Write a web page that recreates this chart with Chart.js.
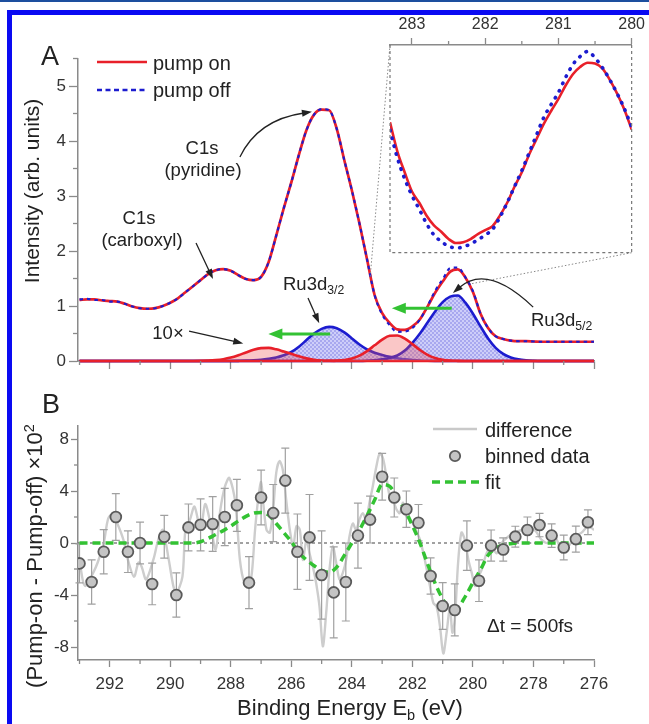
<!DOCTYPE html>
<html>
<head>
<meta charset="utf-8">
<script src="https://cdn.jsdelivr.net/npm/chart.js@4.4.1/dist/chart.umd.min.js"></script>
<style>
body{margin:0;background:#fff;}
#page{position:relative;width:649px;height:724px;overflow:hidden;font-family:"Liberation Sans",Arial,sans-serif;color:#222;background:#fff;}
#page canvas{position:absolute;}
.t{position:absolute;white-space:nowrap;line-height:1;}
.c{transform:translate(-50%,-50%);}
.l{transform:translateY(-50%);}
.r{transform:translate(-50%,-50%) rotate(-90deg);}
.sb{font-size:0.66em;position:relative;top:0.35em;}
.sp{font-size:0.66em;position:relative;top:-0.55em;}
#topline{position:absolute;left:0;top:0;width:649px;height:2px;background:#1d4f9e;}
#frame{position:absolute;left:7px;top:10px;width:650px;height:720px;border-left:5px solid #0a0af2;border-top:5px solid #0a0af2;}
</style>
</head>
<body>
<div id="page">
  <div id="topline"></div>
  <div id="frame"></div>
  <canvas id="chartA" width="649" height="400" style="left:0;top:0"></canvas>
  <canvas id="inset" width="309" height="300" style="left:340px;top:0"></canvas>
  <canvas id="chartB" width="649" height="324" style="left:0;top:400px"></canvas>

  <div class="t c" style="left:50px;top:56px;font-size:27px">A</div>
  <div class="t c" style="left:51px;top:404px;font-size:27px">B</div>

  <div class="t r" style="left:31px;top:191px;font-size:21px">Intensity (arb. units)</div>
  <div class="t r" style="left:35px;top:556px;font-size:22px">(Pump-on - Pump-off) ×10<span class="sp">2</span></div>
  <div class="t c" style="left:350px;top:708px;font-size:22px">Binding Energy E<span class="sb">b</span> (eV)</div>

  <div class="t l" style="left:153px;top:63px;font-size:20px">pump on</div>
  <div class="t l" style="left:153px;top:90px;font-size:20px">pump off</div>

  <div class="t c" style="left:202px;top:148px;font-size:18.5px">C1s</div>
  <div class="t c" style="left:203px;top:170px;font-size:18.5px">(pyridine)</div>
  <div class="t c" style="left:139px;top:218px;font-size:18.5px">C1s</div>
  <div class="t c" style="left:142px;top:240px;font-size:18.5px">(carboxyl)</div>
  <div class="t c" style="left:168px;top:333px;font-size:18.5px">10×</div>
  <div class="t l" style="left:283px;top:284px;font-size:18.5px">Ru3d<span class="sb">3/2</span></div>
  <div class="t l" style="left:531px;top:320px;font-size:18.5px">Ru3d<span class="sb">5/2</span></div>

  <div class="t l" style="left:485px;top:430px;font-size:20px">difference</div>
  <div class="t l" style="left:485px;top:456px;font-size:20px">binned data</div>
  <div class="t l" style="left:485px;top:482px;font-size:20px">fit</div>
  <div class="t l" style="left:487px;top:625px;font-size:19px">Δt = 500fs</div>
</div>

<script>
// ================= DATA =================

// panel A, 0.25 eV grid
const energies = [293, 292.75, 292.5, 292.25, 292, 291.75, 291.5, 291.25, 291, 290.75, 290.5, 290.25, 290,
  289.75, 289.5, 289.25, 289, 288.75, 288.5, 288.25, 288, 287.75, 287.5, 287.25, 287, 286.75, 286.5, 286.25, 286,
  285.75, 285.5, 285.25, 285, 284.75, 284.5, 284.25, 284, 283.75, 283.5, 283.25, 283, 282.75, 282.5, 282.25, 282,
  281.75, 281.5, 281.25, 281, 280.75, 280.5, 280.25, 280, 279.75, 279.5, 279.25, 279, 278.75, 278.5, 278.25, 278,
  277.75, 277.5, 277.25, 277, 276.75, 276.5, 276.25, 276];

const pumpOn = [1.11, 1.12, 1.12, 1.10, 1.09, 1.08, 1.04, 0.99, 0.96, 0.95, 0.96, 1.00, 1.06,
  1.14, 1.25, 1.36, 1.47, 1.58, 1.65, 1.67, 1.64, 1.56, 1.49, 1.47, 1.53, 1.80, 2.28, 2.78, 3.25,
  3.75, 4.20, 4.48, 4.57, 4.56, 4.22, 3.65, 3.10, 2.50, 1.85, 1.20, 0.87, 0.69, 0.575, 0.565, 0.63,
  0.76, 0.99, 1.24, 1.445, 1.625, 1.665, 1.52, 1.255, 0.86, 0.60, 0.45, 0.40, 0.37, 0.36, 0.36, 0.355,
  0.35, 0.35, 0.35, 0.35, 0.35, 0.35, 0.35, 0.35];

const pumpOff = [1.12, 1.13, 1.11, 1.11, 1.08, 1.08, 1.04, 0.99, 0.96, 0.95, 0.96, 1.00, 1.06,
  1.14, 1.25, 1.36, 1.47, 1.58, 1.65, 1.67, 1.64, 1.56, 1.49, 1.47, 1.53, 1.80, 2.28, 2.78, 3.25,
  3.75, 4.20, 4.48, 4.58, 4.56, 4.22, 3.65, 3.10, 2.50, 1.85, 1.20, 0.845, 0.65, 0.53, 0.535, 0.60,
  0.755, 1.00, 1.275, 1.485, 1.69, 1.70, 1.52, 1.27, 0.86, 0.60, 0.45, 0.40, 0.37, 0.36, 0.36, 0.355,
  0.35, 0.35, 0.35, 0.35, 0.35, 0.35, 0.35, 0.35];

// fitted components
const ru32 = [0, 0, 0, 0, 0, 0, 0, 0, 0, 0, 0, 0, 0,
  0, 0, 0, 0, 0, 0, 0, 0.001, 0.003, 0.006, 0.012, 0.022, 0.04, 0.065, 0.105, 0.165,
  0.26, 0.38, 0.50, 0.585, 0.62, 0.595, 0.52, 0.41, 0.30, 0.21, 0.15, 0.11, 0.075, 0.05, 0.03, 0.018,
  0.01, 0.005, 0.002, 0, 0, 0, 0, 0, 0, 0, 0, 0, 0, 0, 0, 0,
  0, 0, 0, 0, 0, 0, 0, 0];

const ru52 = [0, 0, 0, 0, 0, 0, 0, 0, 0, 0, 0, 0, 0,
  0, 0, 0, 0, 0, 0, 0, 0, 0, 0, 0, 0, 0, 0, 0, 0,
  0, 0, 0, 0, 0, 0, 0, 0, 0, 0.005, 0.015, 0.03, 0.055, 0.10, 0.19, 0.33,
  0.50, 0.70, 0.90, 1.07, 1.17, 1.19, 1.06, 0.86, 0.63, 0.41, 0.24, 0.13, 0.065, 0.03, 0.012, 0.004,
  0, 0, 0, 0, 0, 0, 0, 0];

const red10a = [0, 0, 0, 0, 0, 0, 0, 0, 0, 0, 0, 0, 0,
  0, 0, 0.001, 0.003, 0.007, 0.016, 0.033, 0.062, 0.105, 0.156, 0.204, 0.234, 0.238, 0.212, 0.172, 0.13,
  0.085, 0.048, 0.024, 0.01, 0.004, 0.001, 0, 0, 0, 0, 0, 0, 0, 0, 0, 0,
  0, 0, 0, 0, 0, 0, 0, 0, 0, 0, 0, 0, 0, 0, 0, 0,
  0, 0, 0, 0, 0, 0, 0, 0];

const red10b = [0, 0, 0, 0, 0, 0, 0, 0, 0, 0, 0, 0, 0,
  0, 0, 0, 0, 0, 0, 0, 0, 0, 0, 0, 0, 0, 0, 0, 0,
  0, 0, 0, 0, 0.002, 0.007, 0.019, 0.046, 0.098, 0.18, 0.285, 0.389, 0.458, 0.464, 0.407, 0.307,
  0.20, 0.112, 0.055, 0.023, 0.008, 0.003, 0.001, 0, 0, 0, 0, 0, 0, 0, 0, 0,
  0, 0, 0, 0, 0, 0, 0, 0];

// inset, 0.1 eV grid
const insetE = [283.3, 283.2, 283.1, 283.0, 282.9, 282.8, 282.7, 282.6, 282.5, 282.4, 282.3, 282.2, 282.1, 282.0,
  281.9, 281.8, 281.7, 281.6, 281.5, 281.4, 281.3, 281.2, 281.1, 281.0, 280.9, 280.8, 280.7, 280.6, 280.5,
  280.4, 280.3, 280.2, 280.1, 280.0];
const insetOn = [1.30, 1.12, 0.99, 0.87, 0.80, 0.72, 0.66, 0.62, 0.575, 0.55, 0.555, 0.575, 0.605, 0.63,
  0.655, 0.72, 0.80, 0.90, 0.99, 1.10, 1.195, 1.29, 1.37, 1.445, 1.53, 1.60, 1.645, 1.67, 1.665,
  1.635, 1.565, 1.48, 1.38, 1.255];
const insetOff = [1.25, 1.08, 0.95, 0.845, 0.76, 0.67, 0.60, 0.56, 0.53, 0.52, 0.525, 0.545, 0.57, 0.60,
  0.635, 0.71, 0.80, 0.90, 1.00, 1.11, 1.22, 1.33, 1.41, 1.485, 1.58, 1.66, 1.71, 1.74, 1.70,
  1.64, 1.565, 1.48, 1.385, 1.27];

// panel B
const fitB = [0, 0, 0, 0, 0, 0, 0, 0, 0, 0, 0, 0, 0,
  0, 0, 0, 0.1, 0.35, 0.65, 0.95, 1.3, 1.7, 2.05, 2.3, 2.35, 2.15, 1.5, 0.8, 0.1,
  -0.75, -1.3, -1.75, -2.1, -2.25, -1.85, -0.95, 0.0, 1.0, 2.1, 3.3, 4.5, 4.35, 3.5, 2.55, 1.35,
  0.0, -1.6, -3.1, -4.3, -5.05, -4.95, -4.1, -3.05, -2.05, -0.95, -0.4, -0.15, -0.05, 0, 0, 0,
  0, 0, 0, 0, 0, 0, 0, 0];

const binE = [293.0, 292.6, 292.2, 291.8, 291.4, 291.0, 290.6, 290.2, 289.8, 289.4, 289.0, 288.6, 288.2,
  287.8, 287.4, 287.0, 286.6, 286.2, 285.8, 285.4, 285.0, 284.6, 284.2, 283.8, 283.4, 283.0, 282.6,
  282.2, 281.8, 281.4, 281.0, 280.6, 280.2, 279.8, 279.4, 279.0, 278.6, 278.2, 277.8, 277.4, 277.0,
  276.6, 276.2];
const binV = [-1.57, -3.0, -0.67, 2.0, -0.67, 0.0, -3.15, 0.48, -4.0, 1.2, 1.4, 1.46, 2.0,
  2.9, -3.05, 3.5, 2.3, 4.8, -0.67, 0.43, -2.46, -3.8, -3.0, 0.57, 1.8, 5.1, 3.5,
  2.6, 1.56, -2.54, -4.85, -5.15, -0.2, -2.9, -0.2, -0.5, 0.49, 1.0, 1.38, 0.57, -0.35,
  0.3, 1.6];
const binErr = [1.5, 1.7, 1.7, 1.8, 1.6, 1.6, 1.6, 1.65, 1.7, 1.8, 2.0, 2.1, 2.2,
  2.0, 2.0, 2.1, 2.2, 2.5, 2.9, 3.3, 3.4, 3.5, 3.0, 2.5, 1.8, 1.8, 1.5,
  1.4, 1.4, 1.4, 1.8, 2.0, 1.9, 1.6, 1.2, 0.9, 0.8, 1.0, 0.9, 0.9, 0.95,
  1.0, 0.95];

const diffE = [293.0, 292.88, 292.8, 292.55, 292.4, 292.2, 292.05, 291.9, 291.75, 291.55, 291.4, 291.2, 291.05,
  290.95, 290.8, 290.55, 290.4, 290.25, 290.05, 289.9, 289.8, 289.6, 289.5, 289.35, 289.2, 289.0, 288.85,
  288.7, 288.5, 288.35, 288.2, 288.05, 287.85, 287.7, 287.55, 287.4, 287.3, 287.2, 287.1, 287.0, 286.93,
  286.82, 286.71, 286.6, 286.5, 286.39, 286.28, 286.17, 286.05, 285.94, 285.83, 285.72, 285.62, 285.5,
  285.4, 285.29, 285.18, 285.07, 284.96, 284.85, 284.74, 284.63, 284.52, 284.41, 284.3, 284.19, 284.08,
  283.97, 283.86, 283.75, 283.64, 283.53, 283.42, 283.31, 283.19, 283.08, 282.97, 282.86, 282.75, 282.64,
  282.53, 282.42, 282.31, 282.2, 282.09, 281.98, 281.85, 281.75, 281.59, 281.42, 281.31, 281.2, 281.09,
  280.98, 280.87, 280.76, 280.68, 280.6, 280.49, 280.38, 280.27, 280.15, 280.04, 279.93, 279.82, 279.71,
  279.55, 279.38, 279.22, 279.05, 278.83, 278.61, 278.39, 278.17, 277.96, 277.74, 277.52, 277.3, 277.07,
  276.85, 276.63, 276.41, 276.19, 276.0];
const diffV = [-1.3, -3.0, -3.3, -2.3, -1.5, 0.0, 1.9, 2.2, 1.5, 0.25, -1.3, -2.6, -1.5,
  -1.8, -2.8, -1.2, 0.25, 1.0, -1.3, -3.3, -3.85, -2.6, 1.0, 1.8, 2.8, 1.0, 3.0,
  1.8, -0.5, 2.5, 4.3, 5.0, 3.1, -1.3, -3.1, -3.3, -2.2, 1.0, 3.3, 4.7, 3.1,
  1.0, 0.8, 2.6, 5.4, 6.3, 5.6, 3.3, 1.0, -0.26, 1.3, 1.0, -1.3, 0.26,
  -0.8, -1.8, -3.1, -4.9, -7.95, -5.4, -2.05, -0.26, -1.5, -2.8, -2.3, -1.3, 0.5,
  1.5, 1.0, 1.8, 2.3, 1.8, 3.1, 4.35, 5.9, 6.9, 6.5, 5.1, 3.6, 3.3,
  2.6, 2.3, 3.1, 2.05, 1.8, 1.5, 0.8, 0.26, -1.3, -3.3, -4.6, -4.9, -6.4,
  -8.5, -6.9, -4.9, -6.9, -5.9, -1.5, 0.8, 0.26, -1.3, -2.3, -3.3, -2.6, -2.05,
  -0.8, -0.26, -0.8, 0.0, 0.5, 0.8, 1.0, 1.0, 1.0, 0.26, 0.0, 0.5, -0.5,
  -0.26, 0.5, 0.8, 1.3, 1.0];

// tick values
const xTicks = [292, 290, 288, 286, 284, 282, 280, 278, 276];
const xMinor = [293, 291, 289, 287, 285, 283, 281, 279, 277];
const yTicksA = [0, 1, 2, 3, 4, 5];
const yMinorA = [0.5, 1.5, 2.5, 3.5, 4.5, 5.5];
const yTicksB = [-8, -4, 0, 4, 8];
const yMinorB = [-6, -2, 2, 6];
const insetTicks = [283, 282, 281, 280];
const insetMinor = [282.5, 281.5, 280.5];

// ================= STYLE / HELPERS =================

const FONT = '"Liberation Sans", Arial, sans-serif';
const axisGray = '#8a8a8a';
const RED = '#e8202a', BLUE = '#1c1ccf', GREEN = '#33c233';

const xy = (xs, ys) => xs.map((x, i) => ({x: x, y: ys[i]}));

function axis(min, max, ticks, size, tickLen, pad, fit, reverse, position){
    return {
        type: 'linear', min: min, max: max, reverse: !!reverse, position: position,
        afterBuildTicks: s => { s.ticks = ticks.map(v => ({value: v})); },
        afterFit: fit,
        grid: {drawOnChartArea: false, tickLength: tickLen, tickColor: axisGray, tickWidth: 1.3},
        border: {color: axisGray, width: 1.5},
        ticks: {color: '#333', font: {family: FONT, size: size}, padding: pad, autoSkip: false, maxRotation: 0}
    };
}

function minorPlugin(list){
    return {id: 'minor', afterDraw(chart){
        const ctx = chart.ctx;
        ctx.save();
        ctx.strokeStyle = axisGray; ctx.lineWidth = 1.3;
        list.forEach(m => {
            const s = chart.scales[m.id];
            m.values.forEach(v => {
                const p = s.getPixelForValue(v);
                ctx.beginPath();
                if (s.isHorizontal()){
                    const top = s.position === 'top';
                    const y0 = top ? s.bottom : s.top;
                    ctx.moveTo(p, y0); ctx.lineTo(p, y0 + (top ? -m.len : m.len));
                } else {
                    ctx.moveTo(s.right, p); ctx.lineTo(s.right - m.len, p);
                }
                ctx.stroke();
            });
        });
        ctx.restore();
    }};
}

function arrow(ctx, pts, color, w, head, hw){
    const end = pts[pts.length - 1], prev = pts[pts.length - 2];
    const ang = Math.atan2(end[1] - prev[1], end[0] - prev[0]);
    const bx = end[0] - Math.cos(ang) * head * 0.8, by = end[1] - Math.sin(ang) * head * 0.8;
    ctx.save();
    ctx.strokeStyle = color; ctx.fillStyle = color; ctx.lineWidth = w;
    ctx.beginPath();
    ctx.moveTo(pts[0][0], pts[0][1]);
    if (pts.length === 3) ctx.quadraticCurveTo(pts[1][0], pts[1][1], bx, by);
    else ctx.lineTo(bx, by);
    ctx.stroke();
    ctx.translate(end[0], end[1]); ctx.rotate(ang);
    ctx.beginPath(); ctx.moveTo(0, 0); ctx.lineTo(-head, hw / 2); ctx.lineTo(-head, -hw / 2); ctx.closePath();
    ctx.fill();
    ctx.restore();
}

function hatch(){
    const c = document.createElement('canvas');
    c.width = c.height = 4;
    const g = c.getContext('2d');
    g.fillStyle = 'rgba(120,120,238,0.36)'; g.fillRect(0, 0, 4, 4);
    g.fillStyle = 'rgba(80,80,215,0.30)'; g.fillRect(0, 0, 2, 2); g.fillRect(2, 2, 2, 2);
    return g.createPattern(c, 'repeat');
}

// annotation anchors, in data units of panel A
const notes = {
    pyridine: [[287.70, 3.71], [287.10, 4.39], [285.32, 4.53]],
    carboxyl: [[289.15, 2.145], [288.59, 1.49]],
    ru32: [[285.45, 1.145], [285.08, 0.685]],
    tenx: [[289.38, 0.545], [287.59, 0.32]],
    ru52: [[278.01, 0.98], [279.53, 1.78], [280.66, 1.236]],
    shiftA: [[284.72, 0.49], [286.76, 0.49]],
    shiftB: [[280.70, 0.958], [282.68, 0.958]],
    zoomFrom: [[283.4, 1.5], [280.1, 1.4]]
};

// ================= INSET =================

const insetChart = new Chart(document.getElementById('inset'), {
    type: 'line',
    data: {datasets: [
        {data: xy(insetE, insetOff), borderColor: BLUE, borderWidth: 3.6, borderDash: [0.5, 7.5],
         borderCapStyle: 'round', pointRadius: 0, cubicInterpolationMode: 'monotone', order: 0},
        {data: xy(insetE, insetOn), borderColor: RED, borderWidth: 2.6, pointRadius: 0,
         cubicInterpolationMode: 'monotone', order: 1}
    ]},
    options: {
        responsive: false, animation: false, devicePixelRatio: 1,
        layout: {padding: {left: 50, right: 16.7, top: 0, bottom: 47.3}},
        plugins: {legend: {display: false}, tooltip: {enabled: false}},
        scales: {
            x: axis(280, 283.3, insetTicks, 16, 7, 4, s => { s.height = 45; }, true, 'top'),
            y: {type: 'linear', min: 0.49, max: 1.78, display: false}
        }
    },
    plugins: [minorPlugin([{id: 'x', values: insetMinor, len: 4}]), {id: 'box', afterDraw(chart){
        const {ctx, chartArea: a} = chart;
        ctx.save();
        ctx.strokeStyle = '#777'; ctx.lineWidth = 1.2; ctx.setLineDash([3, 3]);
        ctx.beginPath();
        ctx.moveTo(a.left, a.top); ctx.lineTo(a.left, a.bottom); ctx.lineTo(a.right, a.bottom); ctx.lineTo(a.right, a.top);
        ctx.stroke();
        ctx.restore();
    }}]
});

// ================= PANEL A =================

const annotA = {id: 'annotA', afterDraw(chart){
    const {ctx, scales: {x, y}} = chart;
    const P = p => [x.getPixelForValue(p[0]), y.getPixelForValue(p[1])];

    // black pointers
    ['pyridine', 'carboxyl', 'ru32', 'tenx', 'ru52'].forEach(k => {
        arrow(ctx, notes[k].map(P), '#222', 1.3, 10, 7);
    });
    // green shift arrows
    arrow(ctx, notes.shiftA.map(P), GREEN, 3, 14, 11);
    arrow(ctx, notes.shiftB.map(P), GREEN, 3, 14, 11);

    // dotted connectors to the inset
    const ia = insetChart.chartArea, ox = 340, oy = 0;
    const c1 = P(notes.zoomFrom[0]), c2 = P(notes.zoomFrom[1]);
    ctx.save();
    ctx.strokeStyle = '#888'; ctx.lineWidth = 1; ctx.setLineDash([1.5, 2]);
    ctx.beginPath();
    ctx.moveTo(ia.left + ox, ia.top + oy); ctx.lineTo(c1[0], c1[1]);
    ctx.moveTo(ia.right + ox, ia.bottom + oy); ctx.lineTo(c2[0], c2[1]);
    ctx.stroke();
    ctx.restore();

    // legend samples
    ctx.save();
    ctx.lineWidth = 2.6; ctx.strokeStyle = RED;
    ctx.beginPath(); ctx.moveTo(97, 62); ctx.lineTo(147, 62); ctx.stroke();
    ctx.strokeStyle = BLUE; ctx.lineWidth = 2.6; ctx.setLineDash([5, 3.5]);
    ctx.beginPath(); ctx.moveTo(97, 90); ctx.lineTo(147, 90); ctx.stroke();
    ctx.restore();
}};

const blueFill = hatch();
const redFill = 'rgba(240,80,80,0.32)';
const comp = (vals, color, fill, order) => ({
    data: xy(energies, vals), borderColor: color, borderWidth: 2.6, backgroundColor: fill,
    fill: 'origin', pointRadius: 0, cubicInterpolationMode: 'monotone', clip: 6, order: order
});

new Chart(document.getElementById('chartA'), {
    type: 'line',
    data: {datasets: [
        {data: xy(energies, pumpOff), borderColor: BLUE, borderWidth: 2.1, borderDash: [3.5, 4],
         pointRadius: 0, cubicInterpolationMode: 'monotone', order: 0},
        {data: xy(energies, pumpOn), borderColor: RED, borderWidth: 2.7,
         pointRadius: 0, cubicInterpolationMode: 'monotone', order: 1},
        comp(red10b, RED, redFill, 2),
        comp(red10a, RED, redFill, 3),
        comp(ru52, BLUE, blueFill, 4),
        comp(ru32, BLUE, blueFill, 5)
    ]},
    options: {
        responsive: false, animation: false, devicePixelRatio: 1,
        layout: {padding: {left: 0, right: 55, top: 58.5, bottom: 20}},
        plugins: {legend: {display: false}, tooltip: {enabled: false}},
        scales: {
            x: axis(276, 293.05, xTicks, 17, 8, 10, s => { s.height = 19; }, true, 'bottom'),
            y: axis(0, 5.5, yTicksA, 17, 9, 3, s => { s.width = 78; }, false, 'left')
        }
    },
    plugins: [minorPlugin([{id: 'x', values: xMinor, len: 4}, {id: 'y', values: yMinorA, len: 5}]), annotA]
});

// ================= PANEL B =================

const annotB = {
    id: 'annotB',
    beforeDatasetsDraw(chart){
        const {ctx, chartArea: a, scales: {y}} = chart;
        const y0 = y.getPixelForValue(0);
        ctx.save();
        ctx.strokeStyle = '#444'; ctx.lineWidth = 1; ctx.setLineDash([3, 3]);
        ctx.beginPath(); ctx.moveTo(a.left, y0); ctx.lineTo(a.right, y0); ctx.stroke();
        ctx.restore();
    },
    afterDatasetDraw(chart, args){
        if (args.index !== 2) return;
        const {ctx, scales: {x, y}} = chart;
        ctx.save();
        ctx.strokeStyle = '#a0a0a0'; ctx.lineWidth = 1.2;
        binE.forEach((e, i) => {
            const px = x.getPixelForValue(e);
            const hi = y.getPixelForValue(binV[i] + binErr[i]);
            const lo = y.getPixelForValue(binV[i] - binErr[i]);
            ctx.beginPath();
            ctx.moveTo(px, hi); ctx.lineTo(px, lo);
            ctx.moveTo(px - 4, hi); ctx.lineTo(px + 4, hi);
            ctx.moveTo(px - 4, lo); ctx.lineTo(px + 4, lo);
            ctx.stroke();
        });
        ctx.restore();
    },
    afterDraw(chart){
        const ctx = chart.ctx;
        ctx.save();
        ctx.strokeStyle = '#c9c9c9'; ctx.lineWidth = 2.4;
        ctx.beginPath(); ctx.moveTo(433, 29); ctx.lineTo(477, 29); ctx.stroke();
        ctx.beginPath(); ctx.arc(455, 56, 5.2, 0, Math.PI * 2);
        ctx.fillStyle = '#c4c4c4'; ctx.fill();
        ctx.strokeStyle = '#5a5a5a'; ctx.lineWidth = 1.8; ctx.stroke();
        ctx.strokeStyle = GREEN; ctx.lineWidth = 3.5; ctx.setLineDash([8, 5]);
        ctx.beginPath(); ctx.moveTo(432, 82); ctx.lineTo(483, 82); ctx.stroke();
        ctx.restore();
    }
};

new Chart(document.getElementById('chartB'), {
    type: 'line',
    data: {datasets: [
        {data: xy(binE, binV), showLine: false, pointRadius: 5.4, pointBorderWidth: 1.8,
         pointBackgroundColor: '#c4c4c4', pointBorderColor: '#5a5a5a', order: 0},
        {data: xy(energies, fitB), borderColor: GREEN, borderWidth: 3.5, borderDash: [8, 5],
         pointRadius: 0, cubicInterpolationMode: 'monotone', order: 1},
        {data: xy(diffE, diffV), borderColor: '#cdcdcd', borderWidth: 2.4, pointRadius: 0,
         tension: 0.3, order: 2}
    ]},
    options: {
        responsive: false, animation: false, devicePixelRatio: 1,
        layout: {padding: {left: 0, right: 55, top: 26, bottom: 24}},
        plugins: {legend: {display: false}, tooltip: {enabled: false}},
        scales: {
            x: axis(276, 293.05, xTicks, 17, 7, 7.5, s => { s.height = 40; }, true, 'bottom'),
            y: axis(-9, 9, yTicksB, 17, 7, 2, s => { s.width = 78; }, false, 'left')
        }
    },
    plugins: [minorPlugin([{id: 'x', values: xMinor, len: 4}, {id: 'y', values: yMinorB, len: 4}]), annotB]
});
</script>
</body>
</html>
